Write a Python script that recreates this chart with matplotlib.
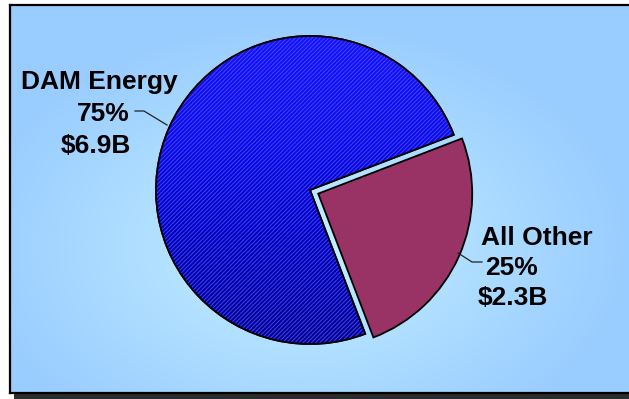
import numpy as np
import matplotlib
matplotlib.use("Agg")
import matplotlib.pyplot as plt
from matplotlib.patches import Wedge, Rectangle
from matplotlib.colors import LinearSegmentedColormap

# ---- data ----
categories = ["DAM Energy", "All Other"]
shares = [75, 25]
percent_labels = ["75%", "25%"]
value_labels = ["$6.9B", "$2.3B"]
slice_colors = ["#1212f0", "#993366"]

W, H = 629, 399
plt.rcParams['font.family'] = ['Liberation Sans', 'DejaVu Sans']
plt.rcParams['hatch.linewidth'] = 0.6

fig = plt.figure(figsize=(W / 100, H / 100), dpi=100)
fig.patch.set_facecolor("white")
ax = fig.add_axes([0, 0, 1, 1])


def Y(y):
    return H - y


# ---- background radial gradient ----
x0, x1, yt, yb = 10, W, 6, 393
xs = np.linspace(x0, x1, 400)
ys = np.linspace(yt, yb, 260)
XX, YY = np.meshgrid(xs, ys)
t = np.sqrt(((XX - 300) / 340) ** 2 + ((YY - 245) / 230) ** 2)
t = np.clip(t, 0, 1) ** 0.9
c_in = np.array([0.78, 0.95, 1.0])
c_out = np.array([0.60, 0.80, 1.0])
img = c_in[None, None, :] * (1 - t[..., None]) + c_out[None, None, :] * t[..., None]
ax.imshow(img, extent=(x0, x1, Y(yb), Y(yt)), origin="upper", aspect="auto", zorder=0)

# frame and shadow
ax.add_patch(Rectangle((14, 0), W - 14, Y(393.5), facecolor="#2b2b2b", edgecolor="none", zorder=1))
ax.plot([9.5, 9.5], [Y(5), Y(393)], color="black", lw=1.6, zorder=1.5)
ax.plot([9.5, W], [Y(5), Y(5)], color="black", lw=1.6, zorder=1.5)
ax.plot([9.5, W], [Y(393), Y(393)], color="black", lw=1.6, zorder=1.5)

# ---- pie ----
cx, cy, R = 310, Y(190), 154
wedges, _ = ax.pie(shares, startangle=21, explode=[0, 9], center=(cx, cy), radius=R,
                   colors=slice_colors, counterclock=True,
                   wedgeprops=dict(edgecolor="black", linewidth=1.3))
for w in wedges:
    w.set_zorder(2)

# gradient on blue slice
bw = wedges[0]
grad = np.linspace(0, 1, 256)[:, None]
cmap = LinearSegmentedColormap.from_list("b", ["#1414ff", "#0c0ce8", "#0000b8", "#00008a"])
gimg = ax.imshow(grad, cmap=cmap, extent=(cx - R, cx + R, cy - R, cy + R), origin="upper",
                 aspect="auto", zorder=2.1)
gimg.set_clip_path(bw)

# hatch overlay
hw = Wedge(bw.center, bw.r, bw.theta1, bw.theta2, facecolor="none", edgecolor="#4a4aff",
           linewidth=0, hatch="////////", zorder=2.2)
ax.add_patch(hw)
ow = Wedge(bw.center, bw.r, bw.theta1, bw.theta2, facecolor="none", edgecolor="black",
           linewidth=1.3, zorder=2.3)
ax.add_patch(ow)

# ---- labels ----
font = dict(fontsize=19, fontweight="bold", color="black", va="baseline", ha="center", zorder=5)
ax.text(99, Y(89), categories[0], **font)
ax.text(103, Y(121), percent_labels[0], **font)
ax.text(96, Y(153), value_labels[0], **font)
ax.text(537, Y(245), categories[1], **font)
ax.text(511, Y(275), percent_labels[1], **font)
ax.text(513, Y(305), value_labels[1], **font)

# leader lines
ax.plot([135, 144, 167], [Y(111), Y(111), Y(125)], color="#222222", lw=0.9, zorder=4)
ax.plot([458, 472, 482], [Y(253), Y(262), Y(262)], color="#222222", lw=0.9, zorder=4)

ax.set_xlim(0, W)
ax.set_ylim(0, H)
ax.set_aspect("auto")
ax.axis("off")

fig.savefig("out.png", dpi=100)
